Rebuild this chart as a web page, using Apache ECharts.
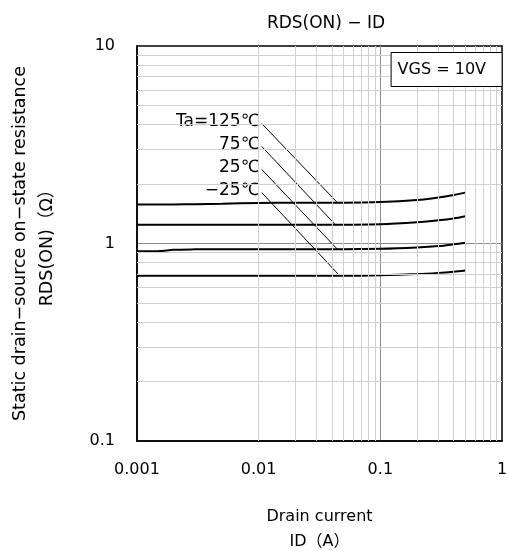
<!DOCTYPE html>
<html>
<head>
<meta charset="utf-8">
<script src="https://cdn.jsdelivr.net/npm/echarts@6/dist/echarts.min.js"></script>
<style>
html, body { margin: 0; padding: 0; background: #fff; }
#rdsChart { width: 508px; height: 551px; }
</style>
</head>
<body>
<div id="rdsChart"></div>
<script>
// drain current (A)
var xCurrent = [0.001, 0.0015, 0.002, 0.003, 0.005, 0.01, 0.02, 0.05, 0.1, 0.2, 0.3, 0.4, 0.5];
// RDS(ON) (ohm) per ambient temperature
var r125 = [1.575, 1.575, 1.577, 1.58, 1.59, 1.605, 1.61, 1.61, 1.62, 1.66, 1.71, 1.76, 1.81];
var r75 = [1.243, 1.243, 1.243, 1.243, 1.243, 1.243, 1.243, 1.245, 1.25, 1.28, 1.31, 1.34, 1.375];
var r25 = [0.914, 0.915, 0.93, 0.934, 0.935, 0.935, 0.935, 0.935, 0.94, 0.955, 0.97, 0.99, 1.008];
var rm25 = [0.686, 0.686, 0.686, 0.686, 0.686, 0.686, 0.686, 0.686, 0.69, 0.70, 0.71, 0.72, 0.73];

// leader lines: label anchor -> point on curve
var tempLabels = ['Ta=125℃', '75℃', '25℃', '−25℃'];
var leaderStartX = 0.0106;
var leaderStartY = [4.05, 3.10, 2.37, 1.81];
var leaderEndX = [0.0444, 0.0428, 0.0444, 0.0464];
var leaderEndY = [1.61, 1.243, 0.935, 0.686];

var xTickLabels = ['0.001', '0.01', '0.1', '1'];
var yTickLabels = ['0.1', '1', '10'];
var xDecades = [0.001, 0.01, 0.1];
var yDecades = [0.1, 1];

var font = "'DejaVu Sans', 'Noto Sans CJK JP', sans-serif";

// 曲线数据
var curves = [r125, r75, r25, rm25];
var series = [];
for (var i = 0; i < curves.length; i++) {
	var pts = [];
	for (var j = 0; j < xCurrent.length; j++) {
		pts.push([xCurrent[j], curves[i][j]]);
	}
	series.push({
		type : 'line',
		data : pts,
		smooth : 0.3,
		symbol : 'none',
		z : 3,
		lineStyle : { color : '#000', width : 2 }
	});
}

// 引出线 + 温度标签
for (var k = 0; k < tempLabels.length; k++) {
	series.push({
		type : 'line',
		symbol : 'circle',
		symbolSize : 0.01,
		showSymbol : true,
		z : 4,
		itemStyle : { color : '#000' },
		lineStyle : { color : '#000', width : 1 },
		data : [ {
			value : [leaderStartX, leaderStartY[k]],
			label : {
				show : true,
				position : 'left',
				distance : 1,
				offset : [0, -2],
				formatter : tempLabels[k],
				color : '#000',
				fontSize : 17,
				fontFamily : font,
				backgroundColor : '#fff',
				padding : [0, 1]
			}
		}, [leaderEndX[k], leaderEndY[k]] ]
	});
}

// 次网格线 (2..9)
var minorLines = [];
for (var a = 0; a < xDecades.length; a++) {
	for (var m = 2; m <= 9; m++) minorLines.push({ xAxis : m * xDecades[a] });
}
for (var b = 0; b < yDecades.length; b++) {
	for (var n = 2; n <= 9; n++) minorLines.push({ yAxis : n * yDecades[b] });
}
series.push({
	type : 'line',
	data : [],
	z : 1,
	markLine : {
		silent : true,
		symbol : 'none',
		label : { show : false },
		animation : false,
		lineStyle : { color : '#cfcfcf', width : 1, type : 'solid' },
		data : minorLines
	}
});

var chart = echarts.init(document.getElementById('rdsChart'));
var option = {
	animation : false,
	textStyle : { fontFamily : font },
	title : [ {
		text : 'RDS(ON) − ID',
		left : 321,
		textAlign : 'center',
		top : 10,
		textStyle : { fontSize : 17, fontWeight : 'normal', color : '#000', fontFamily : font }
	}, {
		text : 'VGS = 10V',
		right : 6,
		top : 52,
		padding : [10, 16, 9, 7],
		borderColor : '#000',
		borderWidth : 1,
		backgroundColor : '#fff',
		z : 10,
		textStyle : { fontSize : 16, fontWeight : 'normal', color : '#000', fontFamily : font }
	} ],
	grid : {
		left : 137,
		top : 46,
		width : 365,
		height : 395,
		outerBoundsMode : 'none',
		containLabel : false,
		show : true,
		borderColor : '#000',
		borderWidth : 1.5,
		backgroundColor : 'transparent'
	},
	xAxis : {
		type : 'log',
		logBase : 10,
		min : 0.001,
		max : 1,
		name : 'Drain current\nID（A）',
		nameLocation : 'middle',
		nameGap : 63,
		nameTextStyle : { fontSize : 16, color : '#000', lineHeight : 25, fontFamily : font },
		axisLine : { lineStyle : { color : '#000', width : 1.5 } },
		axisTick : { show : false },
		axisLabel : {
			margin : 21,
			fontSize : 16,
			color : '#000',
			fontFamily : font,
			formatter : function(v) {
				return xTickLabels[Math.round(Math.log10(v)) + 3];
			}
		},
		splitLine : { show : true, showMinLine : false, showMaxLine : false, lineStyle : { color : '#8c8c8c', width : 1 } }
	},
	yAxis : {
		type : 'log',
		logBase : 10,
		min : 0.1,
		max : 10,
		name : 'Static drain−source on−state resistance\nRDS(ON)（Ω）',
		nameLocation : 'middle',
		nameGap : 76,
		nameTextStyle : { fontSize : 17.5, color : '#000', lineHeight : 27, fontFamily : font },
		axisLine : { lineStyle : { color : '#000', width : 1.5 } },
		axisTick : { show : false },
		axisLabel : {
			margin : 22,
			fontSize : 16,
			color : '#000',
			fontFamily : font,
			formatter : function(v) {
				return yTickLabels[Math.round(Math.log10(v)) + 1];
			}
		},
		splitLine : { show : true, showMinLine : false, showMaxLine : false, lineStyle : { color : '#8c8c8c', width : 1 } }
	},
	series : series
};
chart.setOption(option);
</script>
</body>
</html>
